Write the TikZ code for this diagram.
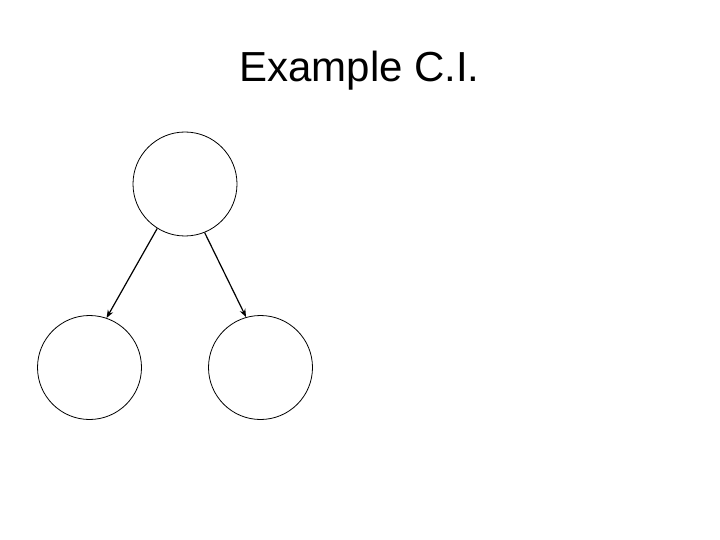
\documentclass[tikz,border=0pt]{standalone}
\usepackage{fontspec}
\setmainfont{Liberation Sans}
\usetikzlibrary{arrows.meta, positioning}

\begin{document}
\begin{tikzpicture}[x=1pt, y=-1pt]
		\tikzstyle{Var} = [circle, draw=black, line width=0.8pt, minimum size=104pt, inner sep=0pt]
		\tikzstyle{arrow} = [line width=1.2pt, -{Stealth[length=8pt, width=6pt]}]
		
		\useasboundingbox (0, 0) rectangle (720, 540);
		\node (title) [anchor=base, font=\fontsize{42}{48}\selectfont] at (359.5, 82) {Example C.I.};
		
		\node (top) [Var] at (185, 184) {};
		\node (lft) [Var] at (89.5, 367.5) {};
		\node (rgt) [Var] at (260.5, 367.5) {};
		
		\draw [arrow] (top.238) -- (lft.71);
		\draw [arrow] (top.292) -- (rgt.106);
\end{tikzpicture}
\end{document}
